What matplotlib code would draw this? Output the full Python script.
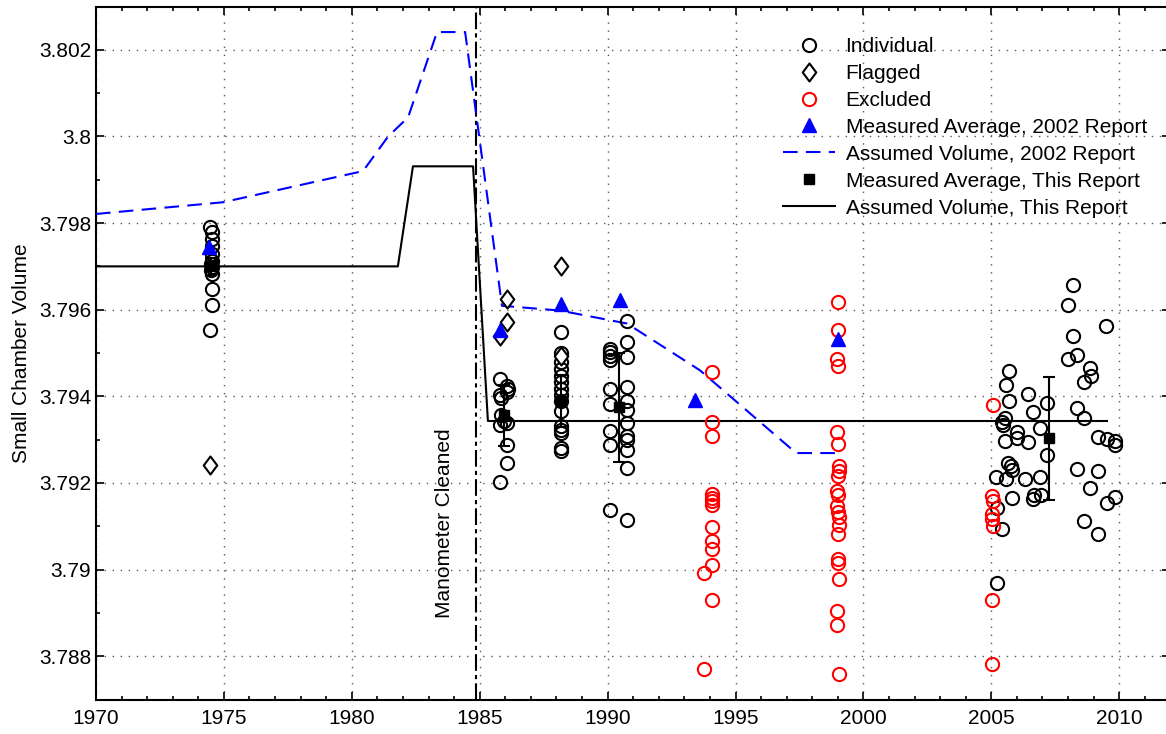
#!/usr/local/bin/python3
## Small chamber volume history
##

import matplotlib
matplotlib.use('Agg')
import matplotlib.pyplot as plt
from matplotlib.path import Path
from matplotlib.lines import Line2D
from matplotlib.ticker import MultipleLocator, FuncFormatter

# individual calibrations kept in the average
individual_x = [1974.47, 1974.52, 1974.55, 1974.55, 1974.53, 1974.55, 1974.50, 1974.53, 1974.50, 1974.52, 1974.55, 1974.53, 1974.46,
                1985.79, 1986.07, 1986.11, 1986.07, 1985.79, 1985.83, 1985.83, 1985.95, 1986.07, 1985.79, 1986.07, 1986.07, 1985.79,
                1988.18, 1988.18, 1988.18, 1988.18, 1988.18, 1988.18, 1988.18, 1988.18, 1988.18, 1988.18, 1988.18, 1988.18, 1988.18, 1988.18, 1988.18,
                1990.09, 1990.09, 1990.09, 1990.09, 1990.09, 1990.09, 1990.09, 1990.09, 1990.09,
                1990.76, 1990.76, 1990.76, 1990.76, 1990.76, 1990.76, 1990.76, 1990.76, 1990.76, 1990.76, 1990.76, 1990.76,
                2008.18, 2008.01, 2009.48, 2008.18, 2008.01, 2008.36, 2008.86, 2008.88, 2008.62, 2005.69,
                2005.56, 2005.69, 2006.45, 2007.16, 2006.64, 2008.36, 2008.62, 2005.53, 2005.40, 2005.44,
                2006.90, 2006.02, 2006.02, 2006.45, 2005.53, 2009.18, 2009.51, 2009.84, 2009.84, 2007.16,
                2005.66, 2005.75, 2005.79, 2005.18, 2005.56, 2006.32, 2006.90, 2008.36, 2009.18, 2008.86,
                2009.84, 2009.51, 2005.79, 2006.67, 2006.64, 2006.94, 2005.21, 2005.40, 2008.62, 2009.18, 2005.22]
individual_y = [3.79791, 3.79779, 3.79763, 3.79747, 3.79729, 3.79713, 3.79706, 3.79699, 3.79692, 3.79683, 3.79648, 3.79611, 3.79554,
                3.79441, 3.79423, 3.79418, 3.79411, 3.79402, 3.79395, 3.79356, 3.79343, 3.79338, 3.79333, 3.79287, 3.79246, 3.79202,
                3.79549, 3.79501, 3.79480, 3.79464, 3.79448, 3.79432, 3.79418, 3.79402, 3.79389, 3.79366, 3.79331, 3.79322, 3.79315, 3.79280, 3.79274,
                3.79510, 3.79503, 3.79494, 3.79483, 3.79418, 3.79382, 3.79320, 3.79287, 3.79138,
                3.79575, 3.79526, 3.79490, 3.79421, 3.79389, 3.79368, 3.79338, 3.79308, 3.79299, 3.79276, 3.79234, 3.79115,
                3.79657, 3.79611, 3.79563, 3.79539, 3.79487, 3.79495, 3.79466, 3.79447, 3.79434, 3.79459,
                3.79425, 3.79389, 3.79405, 3.79385, 3.79363, 3.79372, 3.79351, 3.79349, 3.79340, 3.79333,
                3.79326, 3.79317, 3.79303, 3.79294, 3.79297, 3.79307, 3.79302, 3.79297, 3.79288, 3.79265,
                3.79246, 3.79238, 3.79231, 3.79213, 3.79209, 3.79210, 3.79213, 3.79232, 3.79227, 3.79189,
                3.79167, 3.79154, 3.79166, 3.79173, 3.79164, 3.79173, 3.79141, 3.79093, 3.79113, 3.79081, 3.78970]

# flagged calibrations
flagged_x = [1974.46, 1986.07, 1986.07, 1985.79, 1988.18, 1988.18]
flagged_y = [3.79241, 3.79625, 3.79572, 3.79540, 3.79701, 3.79494]

# excluded calibrations
excluded_x = [1994.08, 1994.08, 1994.08, 1994.08, 1994.08, 1994.08, 1994.08, 1994.08, 1994.08, 1994.08, 1994.08, 1993.77, 1994.08, 1993.77,
              1999.02, 1999.02, 1998.95, 1999.02, 1998.95, 1999.02, 1999.06, 1999.06, 1999.02, 1998.95, 1999.02,
              1998.95, 1999.02, 1999.06, 1999.06, 1999.02, 1999.02, 1999.02, 1999.06, 1998.95, 1998.95, 1999.06,
              2005.08, 2005.02, 2005.08, 2005.02, 2005.02, 2005.08, 2005.02, 2005.02]
excluded_y = [3.79455, 3.79340, 3.79308, 3.79175, 3.79166, 3.79159, 3.79149, 3.79099, 3.79067, 3.79048, 3.79011, 3.78993, 3.78929, 3.78770,
              3.79618, 3.79554, 3.79485, 3.79470, 3.79317, 3.79290, 3.79238, 3.79227, 3.79215, 3.79181, 3.79173,
              3.79146, 3.79134, 3.79121, 3.79104, 3.79083, 3.79024, 3.79016, 3.78978, 3.78905, 3.78871, 3.78759,
              3.79380, 3.79169, 3.79158, 3.79129, 3.79116, 3.79100, 3.78929, 3.78782]

# 2002 report
avg2002_x = [1974.42, 1985.79, 1988.18, 1990.48, 1993.42, 1999.00]
avg2002_y = [3.79745, 3.79552, 3.79614, 3.79623, 3.79391, 3.79533]
vol2002_x = [1970.0, 1974.96, 1980.44, 1981.42, 1982.20, 1983.33, 1984.43, 1985.87, 1988.14, 1990.76, 1993.61, 1997.37, 1998.97]
vol2002_y = [3.79821, 3.79848, 3.79920, 3.80000, 3.80044, 3.80241, 3.80241, 3.79609, 3.79598, 3.79568, 3.79460, 3.79269, 3.79269]

# this report
avg_x = [1974.50, 1985.95, 1988.18, 1990.45, 2007.27]
avg_y = [3.79700, 3.79356, 3.79390, 3.79375, 3.79303]
avg_err = [0.0002, 0.0007, 0.0006, 0.00126, 0.00142]
vol_x = [1970.0, 1981.8, 1982.39, 1984.74, 1985.32, 2009.52]
vol_y = [3.79700, 3.79700, 3.79931, 3.79931, 3.79343, 3.79343]

cleaned_year = 1984.85

FONT = 'Liberation Sans'
DIAMOND = Path([(0, 1), (0.75, 0), (0, -1), (-0.75, 0), (0, 1)],
               [Path.MOVETO, Path.LINETO, Path.LINETO, Path.LINETO, Path.CLOSEPOLY])

def setupAxes(fig):
    # axes run a little past the right edge of the figure
    ax = fig.add_axes([96 / 1166, 1 - 699.5 / 734, 1074.4 / 1166, 693 / 734]);
    ax.set_xlim(1970, 2012);
    ax.set_ylim(3.787, 3.803);
    ax.xaxis.set_major_locator(MultipleLocator(5));
    ax.xaxis.set_minor_locator(MultipleLocator(1));
    ax.yaxis.set_major_locator(MultipleLocator(0.002));
    ax.yaxis.set_minor_locator(MultipleLocator(0.001));
    ax.yaxis.set_major_formatter(FuncFormatter(lambda v, p: '%g' % round(v, 4)));
    ax.tick_params(which='both', direction='in', top=True, right=True, width=1.2, labelsize=15);
    ax.tick_params(which='major', length=6);
    ax.tick_params(which='minor', length=3);
    ax.tick_params(axis='x', which='major', pad=7);
    for s in ax.spines.values():
        s.set_linewidth(1.5);
    ax.grid(True, which='major', linestyle=(0, (1, 4.8)), linewidth=1.0, color='0.35');
    ax.set_ylabel('Small Chamber Volume', fontsize=15, labelpad=6);
    return (ax);

def main():
    plt.rcParams['font.family'] = [FONT, 'DejaVu Sans'];
    fig = plt.figure(figsize=(11.66, 7.34), dpi=100);
    ax = setupAxes(fig);

    ax.axvline(cleaned_year, color='k', linewidth=1.5, linestyle=(0, (8, 2, 2, 2)), zorder=2);
    ax.text(cleaned_year - 1.22, 3.79108, 'Manometer Cleaned', rotation=90, fontsize=15,
            ha='center', va='center');

    ax.plot(vol2002_x, vol2002_y, color='blue', linewidth=1.5, dashes=(7, 4), zorder=3);
    ax.plot(vol_x, vol_y, color='k', linewidth=1.5, zorder=3);

    circ = dict(linestyle='none', marker='o', markersize=9.5, markerfacecolor='none', markeredgewidth=1.5);
    ax.plot(individual_x, individual_y, markeredgecolor='k', zorder=4, **circ);
    ax.plot(excluded_x, excluded_y, markeredgecolor='red', zorder=4, **circ);
    ax.plot(flagged_x, flagged_y, linestyle='none', marker=DIAMOND, markersize=13,
            markerfacecolor='white', markeredgecolor='k', markeredgewidth=1.5, zorder=4);

    ax.errorbar(avg_x, avg_y, yerr=avg_err, fmt='none', ecolor='k', elinewidth=1.5, capsize=4,
                capthick=1.5, zorder=5);
    ax.plot(avg_x, avg_y, linestyle='none', marker='s', markersize=7, color='k', zorder=6);
    ax.plot(avg2002_x, avg2002_y, linestyle='none', marker='^', markersize=9.5, color='blue', zorder=6);

    handles = [
        Line2D([], [], markeredgecolor='k', **circ),
        Line2D([], [], linestyle='none', marker=DIAMOND, markersize=13, markerfacecolor='white',
               markeredgecolor='k', markeredgewidth=1.5),
        Line2D([], [], markeredgecolor='red', **circ),
        Line2D([], [], linestyle='none', marker='^', markersize=9.5, color='blue'),
        Line2D([], [], color='blue', linewidth=1.5, dashes=(7, 4)),
        Line2D([], [], linestyle='none', marker='s', markersize=7, color='k'),
        Line2D([], [], color='k', linewidth=1.5),
    ];
    labels = ['Individual', 'Flagged', 'Excluded', 'Measured Average, 2002 Report',
              'Assumed Volume, 2002 Report', 'Measured Average, This Report',
              'Assumed Volume, This Report'];
    fig.legend(handles, labels, loc='upper left', bbox_to_anchor=(783 / 1166, 1 - 37 / 734),
               frameon=False, fontsize=15, borderpad=0, borderaxespad=0, handlelength=2.5,
               handletextpad=0.5, labelspacing=0.38, numpoints=1);

    fig.savefig('out.png', dpi=100);

if __name__ == "__main__":
    main();
